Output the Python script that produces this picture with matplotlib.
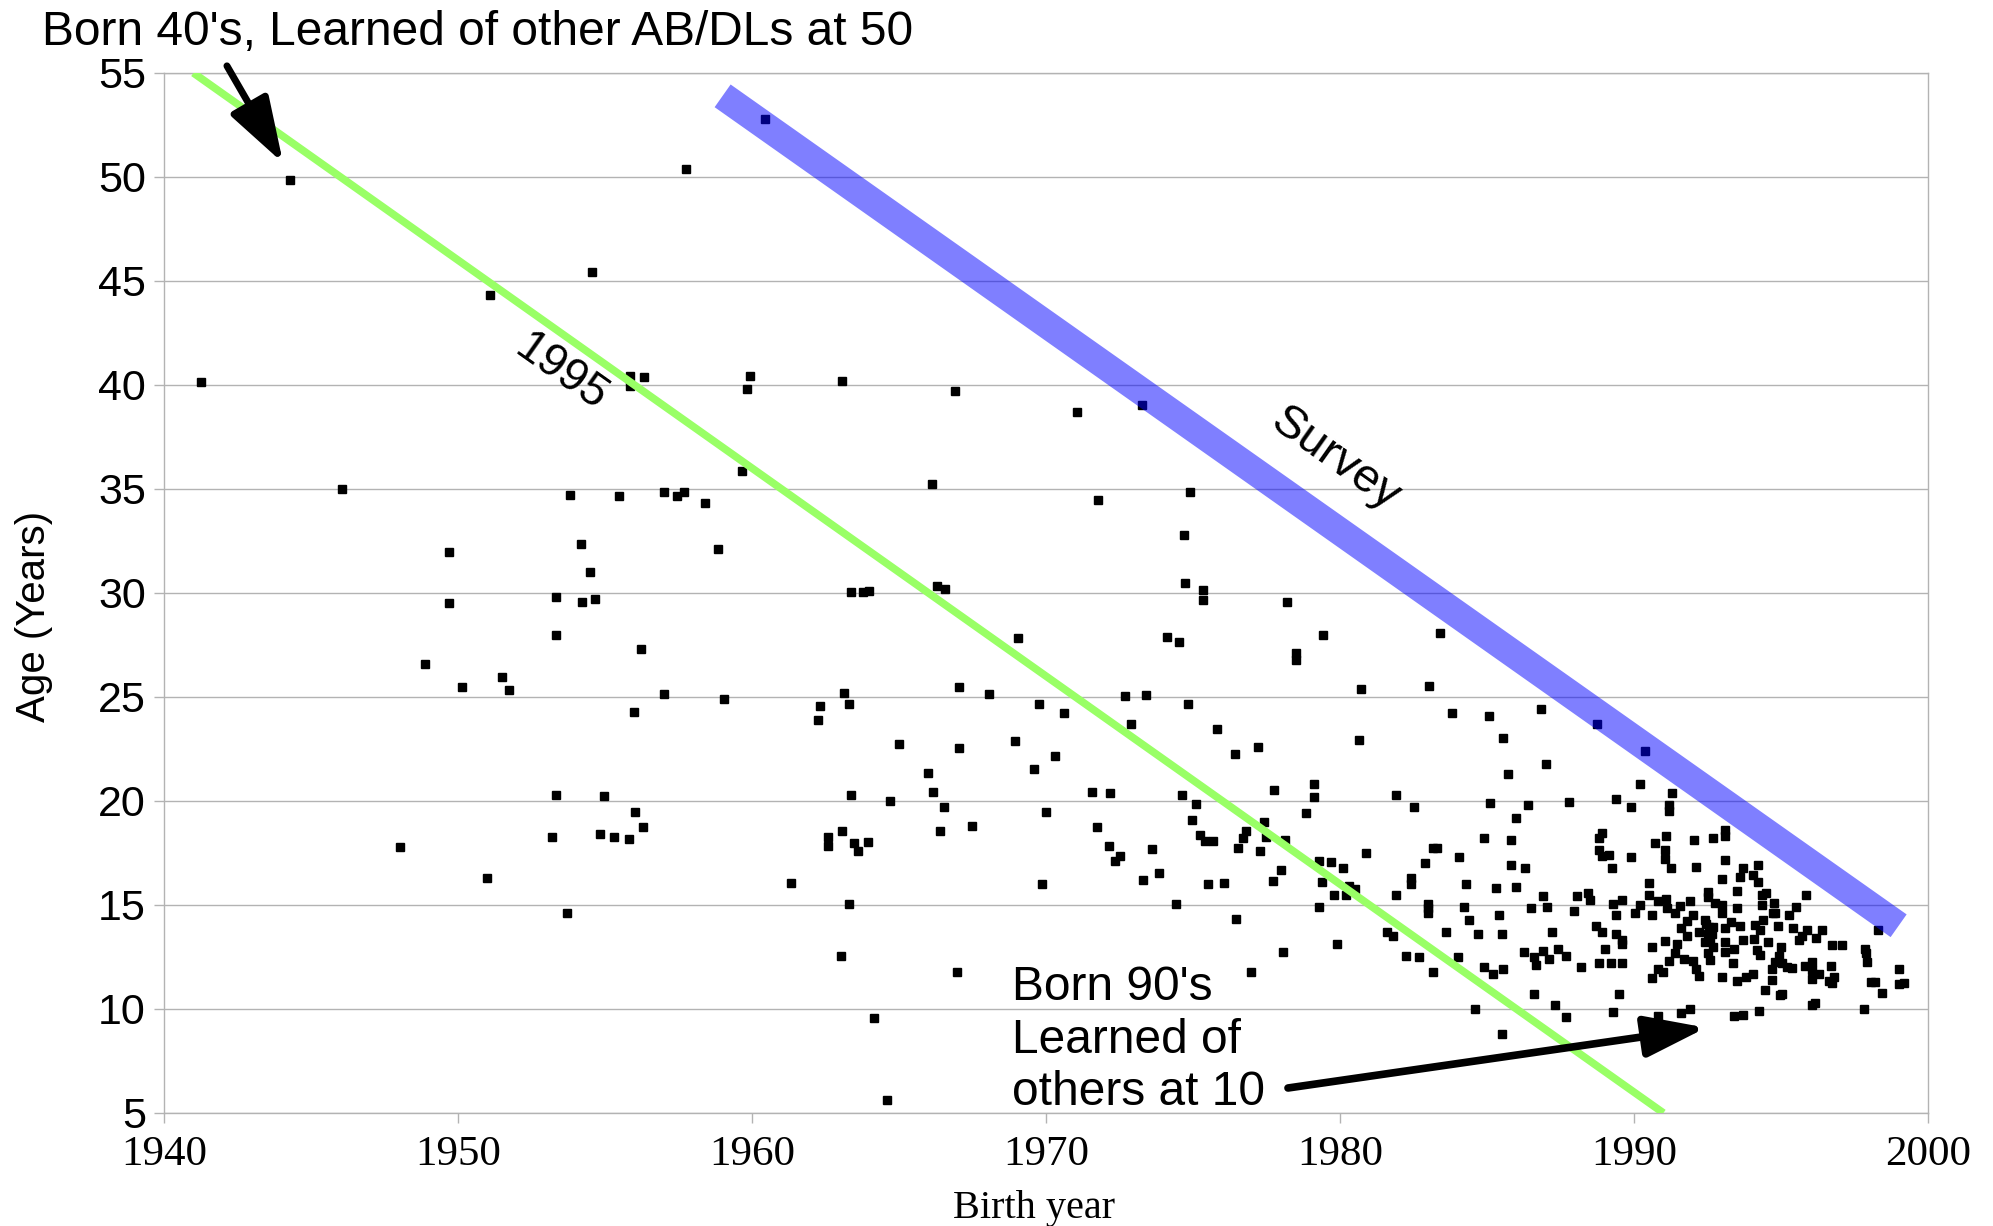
import matplotlib
matplotlib.use("Agg")
import matplotlib.pyplot as plt
import numpy as np

# birth year, age when learned of others
birth_year = [
    1941.25, 1944.3, 1946.05, 1948.02, 1948.86, 1949.68, 1949.71, 1950.15, 1951.0, 1951.1,
    1951.5, 1951.74, 1953.2, 1953.32, 1953.34, 1953.32, 1953.7, 1953.82, 1954.17, 1954.23,
    1954.48, 1954.54, 1954.66, 1954.82, 1954.98, 1955.31, 1955.49, 1955.81, 1955.86, 1955.86,
    1956.33, 1955.97, 1956.03, 1956.22, 1956.3, 1957.0, 1957.01, 1957.44, 1957.67, 1957.76,
    1958.4, 1958.85, 1959.05, 1959.67, 1959.84, 1959.94, 1960.43,
    1961.31, 1962.24, 1962.32, 1962.57, 1962.57, 1963.04, 1963.06, 1963.06, 1963.13, 1963.29,
    1963.29, 1963.36, 1963.36, 1963.47, 1963.61, 1963.76, 1963.95, 1963.99, 1964.16, 1964.58,
    1964.68, 1964.99, 1966.0, 1966.13, 1966.17, 1966.28, 1966.4, 1966.53, 1966.55, 1966.9,
    1966.98, 1967.04, 1967.05, 1967.49, 1968.07, 1968.95, 1969.03, 1969.6, 1969.75, 1969.85,
    1970.0, 1970.32, 1970.6, 1971.05, 1971.57, 1971.73, 1971.78, 1972.13, 1972.17, 1972.35,
    1972.5, 1972.67, 1972.9, 1973.26, 1973.3, 1973.4, 1973.6, 1973.84, 1974.1, 1974.43,
    1974.53, 1974.64, 1974.7, 1974.74, 1974.84, 1974.9, 1974.97, 1975.1, 1975.24, 1975.35,
    1975.35, 1975.4, 1975.5, 1975.69, 1975.8, 1976.06, 1976.43, 1976.46, 1976.54, 1976.69,
    1976.8, 1976.96, 1977.22, 1977.27, 1977.4, 1977.47, 1977.73, 1977.74, 1978.0, 1978.06,
    1978.13, 1978.18, 1978.5, 1978.5,
    1979.43, 1980.7, 1983.04, 1983.41, 1983.8, 1985.07, 1986.85, 1988.74, 1985.53, 1980.63,
    1987.0, 1985.7, 1979.1, 1979.1, 1981.9, 1982.5, 1978.85, 1985.1, 1986.4, 1986.0,
    1984.9, 1985.8, 1980.9, 1983.15, 1983.3, 1979.3, 1979.7, 1980.1, 1984.05, 1982.9,
    1985.8, 1986.3, 1979.4, 1980.3, 1980.5, 1979.8, 1980.2, 1981.9, 1982.4, 1982.4,
    1984.3, 1985.3, 1986.0, 1986.9, 1979.3, 1983.0, 1983.0, 1983.0, 1984.2, 1984.4,
    1985.4, 1986.5, 1987.05, 1981.6, 1981.8, 1979.9, 1983.6, 1984.7, 1985.5, 1987.2,
    1982.25, 1982.7, 1984.0, 1983.15, 1984.9, 1985.2, 1985.55, 1986.25, 1986.6, 1986.65,
    1986.9, 1987.1, 1987.4, 1986.6, 1987.3, 1984.6, 1985.5,
    1990.36, 1990.2, 1991.3, 1987.8, 1989.4, 1989.9, 1991.2, 1991.2, 1988.9, 1988.8,
    1988.8, 1988.9, 1989.15, 1989.25, 1989.9, 1990.7, 1991.1, 1991.05, 1991.05, 1991.25,
    1992.04, 1992.7, 1993.1, 1993.1, 1992.1, 1993.1, 1993.7, 1990.5, 1993.0, 1993.6,
    1993.5, 1988.05, 1988.45, 1988.5, 1987.95, 1989.3, 1989.6, 1989.4, 1990.2, 1990.05,
    1990.5, 1990.8, 1990.6, 1991.1, 1991.13, 1991.4, 1991.55, 1991.9, 1992.5, 1992.5,
    1992.75, 1993.0, 1993.0, 1993.5, 1992.0, 1991.8, 1991.6, 1991.8, 1992.2, 1992.4,
    1992.54, 1992.7, 1992.5, 1992.6, 1992.7, 1992.5, 1992.6, 1993.1, 1993.3, 1993.6,
    1993.1, 1993.1, 1993.4, 1993.7, 1988.7, 1988.9, 1989.0, 1989.4, 1989.6, 1989.6,
    1990.6, 1991.05, 1991.45, 1991.4, 1987.7, 1988.2, 1988.8, 1989.2, 1989.6, 1991.2,
    1991.7, 1992.0, 1992.1, 1992.2, 1990.8, 1990.6, 1991.0, 1993.35, 1993.0, 1993.5,
    1993.8, 1989.5, 1987.7, 1989.3, 1990.8, 1991.6, 1991.9, 1993.4, 1993.7, 1992.45,
    1992.65, 1992.4,
    1994.2, 1994.03, 1994.23, 1994.36, 1994.5, 1994.34, 1994.76, 1994.73, 1994.8, 1995.84,
    1995.5, 1995.28, 1994.37, 1994.1, 1994.28, 1994.9, 1995.4, 1995.87, 1995.7, 1995.6,
    1996.4, 1996.2, 1996.75, 1997.06, 1994.07, 1994.54, 1995.0, 1994.17, 1994.3, 1994.94,
    1994.8, 1995.05, 1995.2, 1995.38, 1994.68, 1994.05, 1994.68, 1995.8, 1996.07, 1996.7,
    1996.3, 1996.05, 1996.04, 1996.64, 1996.8, 1996.75, 1994.47, 1994.96, 1995.05, 1996.06,
    1996.15, 1994.25, 1997.84, 1997.9, 1997.92, 1998.05, 1998.19, 1998.45, 1997.82, 1998.3,
    1999.0, 1999.02, 1999.19,
]
age = [
    40.16, 49.86, 34.98, 17.8, 26.59, 31.97, 29.5, 25.48, 16.28, 44.34,
    25.98, 25.34, 18.27, 20.27, 29.81, 27.98, 14.6, 34.7, 32.33, 29.55,
    31.01, 45.42, 29.7, 18.41, 20.24, 18.29, 34.68, 18.16, 40.45, 39.97,
    40.39, 24.28, 19.49, 27.31, 18.74, 25.14, 34.83, 34.66, 34.83, 50.4,
    34.33, 32.12, 24.9, 35.88, 39.79, 40.43, 52.8,
    16.04, 23.91, 24.58, 18.25, 17.85, 12.56, 18.57, 40.2, 25.2, 24.68,
    15.03, 20.27, 30.05, 17.96, 17.61, 30.03, 18.03, 30.11, 9.58, 5.62,
    20.0, 22.76, 21.33, 35.22, 20.41, 30.34, 18.57, 19.7, 30.19, 39.7,
    11.76, 25.48, 22.53, 18.81, 25.13, 22.87, 27.82, 21.54, 24.65, 16.0,
    19.47, 22.16, 24.23, 38.7, 20.41, 18.75, 34.45, 17.83, 20.37, 17.13,
    17.34, 25.05, 23.69, 39.02, 16.18, 25.08, 17.7, 16.53, 27.9, 15.05,
    27.64, 20.27, 32.77, 30.46, 24.66, 34.87, 19.08, 19.85, 18.36, 30.13,
    29.66, 18.07, 15.99, 18.07, 23.46, 16.04, 22.24, 14.32, 17.75, 18.23,
    18.57, 11.79, 22.58, 17.61, 18.99, 18.28, 16.17, 20.53, 16.68, 12.75,
    18.12, 29.58, 26.8, 27.1,
    27.97, 25.37, 25.54, 28.06, 24.25, 24.1, 24.4, 23.69, 23.05, 22.93,
    21.8, 21.3, 20.8, 20.2, 20.3, 19.7, 19.4, 19.9, 19.8, 19.2,
    18.2, 18.1, 17.5, 17.75, 17.75, 17.1, 17.05, 16.8, 17.3, 17.0,
    16.9, 16.8, 16.1, 15.9, 15.75, 15.5, 15.5, 15.5, 16.3, 16.0,
    16.0, 15.8, 15.85, 15.45, 14.9, 15.05, 14.84, 14.6, 14.9, 14.3,
    14.5, 14.85, 14.9, 13.7, 13.5, 13.1, 13.7, 13.6, 13.6, 13.7,
    12.55, 12.5, 12.5, 11.8, 12.0, 11.7, 11.9, 12.75, 12.5, 12.1,
    12.8, 12.4, 12.9, 10.7, 10.2, 10.0, 8.8,
    22.4, 20.8, 20.4, 19.95, 20.1, 19.7, 19.8, 19.5, 18.46, 18.2,
    17.64, 17.35, 17.4, 16.8, 17.3, 18.0, 18.3, 17.64, 17.2, 16.8,
    18.1, 18.2, 18.6, 18.3, 16.84, 17.16, 16.8, 16.07, 16.25, 16.36,
    15.65, 15.45, 15.56, 15.24, 14.7, 15.03, 15.25, 14.5, 15.0, 14.6,
    15.5, 15.2, 14.5, 15.27, 14.85, 14.6, 14.95, 15.2, 15.64, 15.4,
    15.08, 15.0, 14.63, 14.84, 14.5, 14.23, 13.9, 13.5, 13.7, 14.3,
    13.96, 13.96, 13.6, 13.3, 13.0, 12.7, 12.35, 13.9, 14.2, 14.0,
    13.2, 12.75, 12.9, 13.3, 14.0, 13.7, 12.9, 13.6, 13.3, 13.1,
    13.0, 13.25, 13.1, 12.67, 12.56, 12.0, 12.2, 12.2, 12.2, 12.3,
    12.4, 12.3, 11.9, 11.6, 11.9, 11.5, 11.8, 12.2, 11.55, 11.35,
    11.55, 10.7, 9.6, 9.84, 9.65, 9.8, 10.0, 9.66, 9.7, 14.1,
    13.6, 13.2,
    16.94, 16.44, 16.12, 15.48, 15.56, 15.0, 15.08, 14.63, 14.6, 15.46,
    14.9, 14.5, 14.28, 14.04, 13.8, 14.0, 13.9, 13.8, 13.5, 13.3,
    13.8, 13.4, 13.06, 13.09, 13.35, 13.2, 13.0, 12.83, 12.6, 12.55,
    12.27, 12.2, 12.0, 11.95, 11.94, 11.7, 11.4, 12.05, 12.24, 12.08,
    11.68, 11.46, 11.87, 11.36, 11.52, 11.26, 10.9, 10.67, 10.7, 10.2,
    10.27, 9.9, 12.9, 12.7, 12.26, 11.31, 11.28, 10.75, 10.0, 13.78,
    11.94, 11.18, 11.26,
]

# reference lines
line_1995_x = [1941, 1991]
line_1995_y = [55, 5]
survey_x = [1959.0, 1999.0]
survey_y = [53.9, 14.0]

x_ticks = [1940, 1950, 1960, 1970, 1980, 1990, 2000]
y_ticks = [5, 10, 15, 20, 25, 30, 35, 40, 45, 50, 55]

sans = ["Liberation Sans", "DejaVu Sans"]
serif = ["Liberation Serif", "DejaVu Serif"]
grid_c = "#b3b3b3"

fig = plt.figure(figsize=(19.93, 12.26), dpi=100)
ax = fig.add_axes([0.0823, 0.0922, 0.8851, 0.8483])
ax.set_xlim(1940, 2000)
ax.set_ylim(5, 55)
ax.set_xticks(x_ticks)
ax.set_yticks(y_ticks)
ax.yaxis.grid(True, color=grid_c, lw=1.0, zorder=0)
ax.set_axisbelow(True)
for s in ax.spines.values():
    s.set_color(grid_c)
    s.set_linewidth(1.0)
ax.tick_params(axis="both", color=grid_c, length=7, width=1.0)
ax.tick_params(axis="x", pad=9)
ax.tick_params(axis="y", pad=6)
for lab in ax.get_xticklabels():
    lab.set_family(serif)
    lab.set_fontsize(31)
for lab in ax.get_yticklabels():
    lab.set_family(sans)
    lab.set_fontsize(31)

ax.plot(birth_year, age, ls="none", marker="s", ms=5.5, color="black", zorder=3)
ax.plot(line_1995_x, line_1995_y, color="#99ff66", lw=5.5, solid_capstyle="butt", zorder=4)
ax.plot(survey_x, survey_y, color="#0000ff", alpha=0.5, lw=20, solid_capstyle="butt", zorder=5)

ang = -np.degrees(np.arctan((1040 / 50) / (1764 / 60)))
ax.text(1953.5, 40.6, "1995", rotation=ang, rotation_mode="anchor", ha="center", va="center",
        fontsize=33, family=sans, zorder=6)
ax.text(1979.85, 36.4, "Survey", rotation=ang, rotation_mode="anchor", ha="center", va="center",
        fontsize=34, family=sans, zorder=6)

fig.text(0.021, 0.9637, "Born 40's, Learned of other AB/DLs at 50", fontsize=34.5, family=sans,
         ha="left", va="baseline")
ax.annotate("", xy=(1944.05, 50.67), xytext=(1942.14, 55.34), annotation_clip=False,
            arrowprops=dict(arrowstyle="-|>,head_length=40,head_width=13", mutation_scale=1,
                            lw=5, color="black", shrinkA=0, shrinkB=0), zorder=7)

ax.text(1968.85, 5.39, "Born 90's\nLearned of\nothers at 10", fontsize=34.5, family=sans,
        ha="left", va="baseline", linespacing=1.21, zorder=7)
ax.annotate("", xy=(1992.45, 9.1), xytext=(1978.23, 6.2), annotation_clip=False,
            arrowprops=dict(arrowstyle="-|>,head_length=37,head_width=12.5", mutation_scale=1,
                            lw=5.5, color="black", shrinkA=0, shrinkB=0), zorder=7)

fig.text(0.017, 0.497, "Age (Years)", rotation=90, fontsize=29, family=sans, ha="center", va="center")
fig.text(0.519, 0.014, "Birth year", fontsize=29, family=serif, ha="center", va="center")

fig.savefig("out.png", dpi=100, facecolor="white")
